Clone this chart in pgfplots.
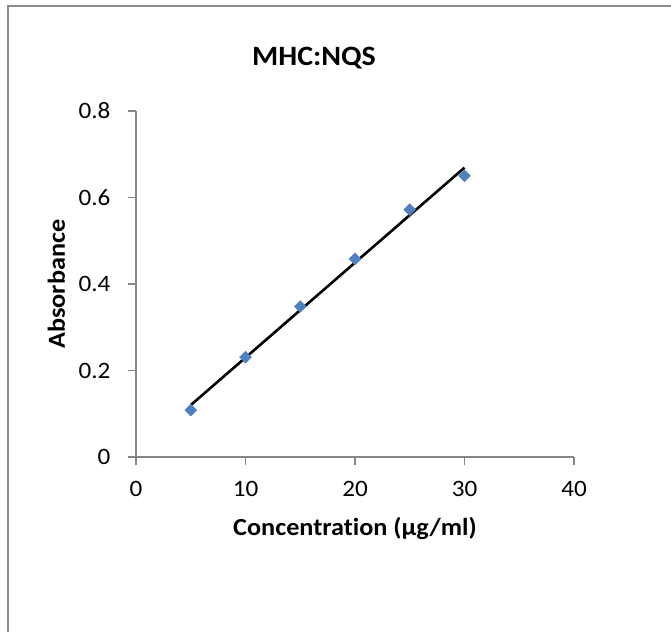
\documentclass[border=0pt]{standalone}
\usepackage{fontspec}
\setmainfont{Carlito}[FakeStretch=1.07, RawFeature=-liga]
\usepackage{pgfplots}
\pgfplotsset{compat=1.18}
\definecolor{axgray}{HTML}{868686}
\definecolor{bordergray}{HTML}{8C8C8C}
\definecolor{exblue}{HTML}{4F81BD}
\begin{document}
\begin{tikzpicture}[x=1pt,y=1pt]
\path[use as bounding box] (0,0) rectangle (671,632);
\draw[bordergray, line width=2pt] (8,0) -- (8,625.5) -- (671,625.5);
\node[anchor=base, font=\bfseries\fontsize{28}{28}\selectfont] at (314,566) {MHC:NQS};
\begin{axis}[
  at={(136pt,175pt)}, anchor=south west,
  width=438pt, height=346pt, scale only axis,
  xmin=0, xmax=40, ymin=0, ymax=0.8,
  xtick={0,10,20,30,40}, ytick={0,0.2,0.4,0.6,0.8},
  axis lines*=left,
  axis line style={axgray, line width=1.3pt},
  tick style={axgray, line width=1.3pt},
  tick align=outside, major tick length=8pt,
  clip=false,
  /pgf/number format/assume math mode=true,
  ticklabel style={font=\fontsize{23.5}{23.5}\selectfont, black},
  yticklabel style={/pgf/number format/fixed, /pgf/number format/precision=1, xshift=-14pt},
  xticklabel style={yshift=-13pt},
  xlabel={Concentration (µg/ml)},
  ylabel={Absorbance},
  label style={font=\bfseries\fontsize{24.5}{24.5}\selectfont},
  xlabel style={at={(axis description cs:0.5,-0.228)}, anchor=base},
  ylabel style={at={(axis description cs:-0.182,0.5)}, anchor=center, rotate=0},
]
\addplot[black, line width=2.6pt] coordinates {(5,0.120) (30,0.669)};
\addplot[only marks, mark=square*, mark size=4.2pt, mark options={rotate=45, fill=exblue, draw=exblue}] coordinates {
(5,0.1085) (10,0.231) (15,0.348) (20,0.458) (25,0.572) (30,0.650)};
\end{axis}
\end{tikzpicture}
\end{document}
